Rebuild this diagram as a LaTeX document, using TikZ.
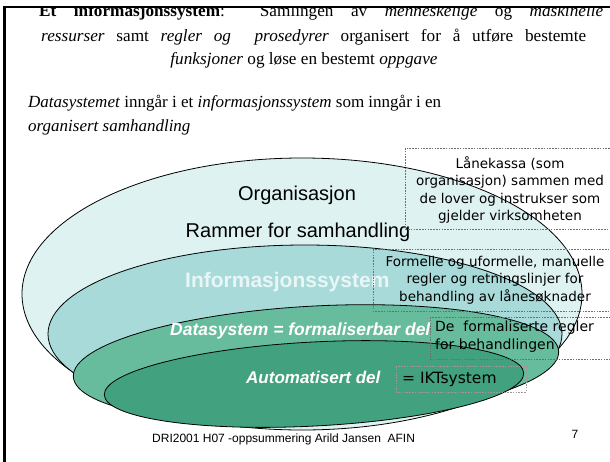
\documentclass[tikz,border=0pt]{standalone}
\usepackage{fontspec}
\setmainfont{Liberation Serif}
\newfontfamily\arialf{Liberation Sans}
\newfontfamily\comicf{DejaVu Sans}
\definecolor{orgfill}{RGB}{222,242,242}
\definecolor{infofill}{RGB}{168,218,218}
\definecolor{datafill}{RGB}{104,188,158}
\definecolor{autofill}{RGB}{66,162,128}
\definecolor{infotext}{RGB}{232,246,246}
\definecolor{boxline}{RGB}{110,110,110}
\definecolor{iktline}{RGB}{165,150,150}
\tikzset{
  serifline/.style={anchor=base west, inner sep=0pt, font=\fontsize{17.2}{21}\selectfont},
  serifcenter/.style={anchor=base, inner sep=0pt, font=\fontsize{17.2}{21}\selectfont},
  seriflineb/.style={anchor=base west, inner sep=0pt, font=\fontsize{17}{21}\selectfont},
  ellipselabel/.style={anchor=base, inner sep=0pt, font=\arialf\fontsize{20}{24}\selectfont},
  whitelabel/.style={anchor=base west, inner sep=0pt, text=white, font=\arialf\bfseries\itshape\fontsize{17.5}{21}\selectfont},
  boxtext/.style={inner sep=0pt, align=center, font=\comicf\fontsize{13.5}{17.5}\selectfont},
  notebox/.style={draw=boxline, dash pattern=on 1.6pt off 1.2pt, line width=0.6pt},
  ring/.style={draw=black, line width=0.8pt},
}
\begin{document}
\begin{tikzpicture}[x=1pt,y=-1pt]
\useasboundingbox (0,0) rectangle (610,461);
\clip (0,0) rectangle (610,461);
\fill[white] (0,0) rectangle (610,461);

% header text (first line cut at the top by the frame)
\begin{scope}
\clip (0,7.5) rectangle (610,30);
\node[serifline] (l1) at (39,16) {\makebox[564pt][s]{\textbf{Et informasjonssystem}:\ \ Samlingen av \textit{menneskelige} og \textit{maskinelle}}};
\end{scope}
\node[serifline] (l2) at (41,41) {\makebox[545pt][s]{\textit{ressurser} samt \textit{regler og\ \ prosedyrer} organisert for å utføre bestemte}};
\node[serifcenter] (l3) at (304,64) {\textit{funksjoner} og løse en bestemt \textit{oppgave}};

\node[seriflineb] (d1) at (28,107) {\textit{Datasystemet} inngår i et \textit{informasjonssystem} som inngår i en};
\node[seriflineb] (d2) at (28,131) {\textit{organisert samhandling}};

% frame lines
\draw[line width=2pt] (3,6.5) -- (612,6.5);
\draw[line width=2.5pt] (4.5,5.5) -- (4.5,465);

% ellipses
\draw[ring, fill=orgfill] (302,294) ellipse [x radius=280pt, y radius=136pt];
\draw[ring, fill=infofill] (305,334) ellipse [x radius=257pt, y radius=89pt];
\draw[ring, fill=datafill, rotate around={3:(316,364)}] (316,364) ellipse [x radius=243pt, y radius=58pt];
\draw[ring, fill=autofill, rotate around={3:(314,384)}] (314,384) ellipse [x radius=210pt, y radius=42pt];

% ellipse labels
\node[ellipselabel] (org) at (297,200) {Organisasjon};
\node[ellipselabel] (ram) at (298,237) {Rammer for samhandling};
\node[anchor=base west, inner sep=0pt, text=infotext, font=\arialf\bfseries\fontsize{21}{24}\selectfont] (info) at (185,287) {Informasjonssystem};
\node[whitelabel] (data) at (170,335) {Datasystem = formaliserbar del};
\node[whitelabel, font=\arialf\bfseries\itshape\fontsize{17}{21}\selectfont] (auto) at (246,383) {Automatisert del};

% note boxes
\draw[notebox] (405,148) rectangle (614,229);
\node[boxtext] (lk) at (510,190) {Lånekassa (som\\organisasjon) sammen med\\de lover og instrukser som\\gjelder virksomheten};

\draw[notebox] (373,249) rectangle (614,311);
\node[boxtext] (fm) at (495,280) {Formelle og uformelle, manuelle\\regler og retningslinjer for\\behandling av lånesøknader};

\draw[notebox] (430,317) rectangle (614,359);
\node[boxtext, align=left, anchor=north west, font=\comicf\fontsize{14}{18}\selectfont] (fr) at (435,321) {De\ \ formaliserte regler\\for behandlingen};

\draw[draw=iktline, dash pattern=on 1.6pt off 1.2pt, line width=0.6pt] (396,366) rectangle (526,392);
\node[boxtext, anchor=west, font=\comicf\fontsize{15.5}{18}\selectfont] (ikt) at (402,379) {= IKTsystem};

% footer
\node[anchor=base west, inner sep=0pt, font=\arialf\fontsize{12}{14}\selectfont] (foot) at (152,442) {DRI2001 H07 -oppsummering Arild Jansen\ \ AFIN};
\node[anchor=base, inner sep=0pt, font=\arialf\fontsize{12}{14}\selectfont] (pg) at (575,438) {7};
\end{tikzpicture}
\end{document}
